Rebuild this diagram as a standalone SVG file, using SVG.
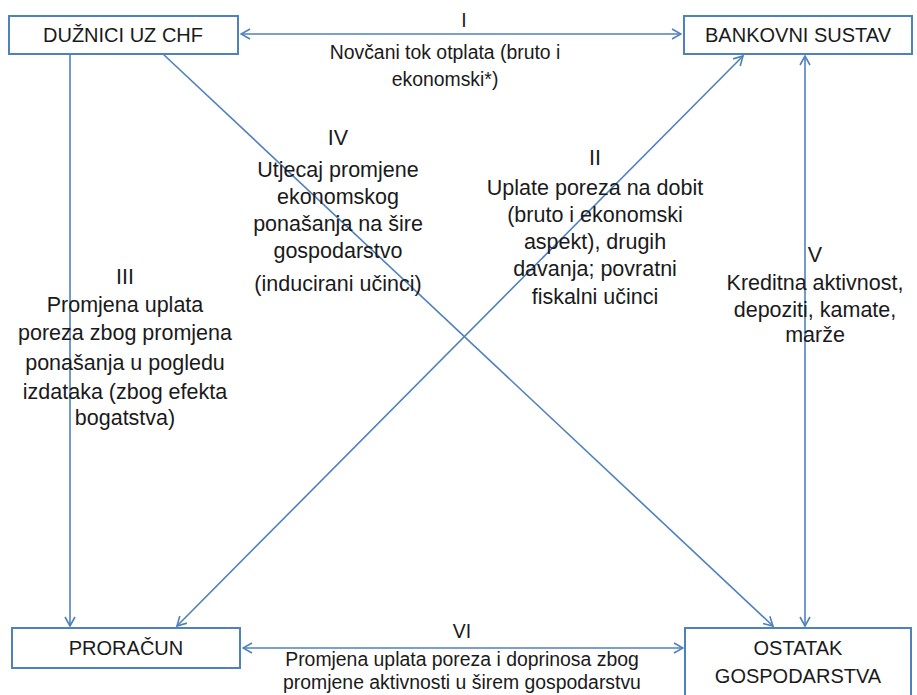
<svg xmlns="http://www.w3.org/2000/svg" width="917" height="695" viewBox="0 0 917 695">
<style>
.box{fill:#fff;stroke:#4f81bd;stroke-width:2}
.ln{stroke:#4f81bd;stroke-width:1.6;fill:none}
.t{font-family:"Liberation Sans",Arial,sans-serif;font-size:19.4px;fill:#1a1a1a;text-anchor:middle}
.w{font-family:"Liberation Sans",Arial,sans-serif;font-size:21.5px;fill:#1a1a1a;text-anchor:middle}
.bt{font-family:"Liberation Sans",Arial,sans-serif;font-size:20px;fill:#1a1a1a;text-anchor:middle}
</style>
<defs>
<marker id="ae" viewBox="0 0 12 12" refX="11" refY="6" markerWidth="12" markerHeight="12" markerUnits="userSpaceOnUse" orient="auto-start-reverse">
<path d="M2,1 L11,6 L2,11" fill="none" stroke="#4f81bd" stroke-width="1.6"/>
</marker>
</defs>
<rect width="917" height="695" fill="#fff"/>
<g id="connectors">
<line class="ln" x1="241" y1="34" x2="681" y2="34" marker-start="url(#ae)" marker-end="url(#ae)"/>
<line class="ln" x1="70" y1="54" x2="70" y2="626" marker-end="url(#ae)"/>
<line class="ln" x1="163" y1="54" x2="773" y2="626" marker-end="url(#ae)"/>
<line class="ln" x1="177" y1="626" x2="743" y2="56" marker-start="url(#ae)" marker-end="url(#ae)"/>
<line class="ln" x1="805" y1="56" x2="805" y2="626" marker-start="url(#ae)" marker-end="url(#ae)"/>
<line class="ln" x1="243" y1="648" x2="683" y2="648" marker-start="url(#ae)" marker-end="url(#ae)"/>
</g>
<g id="n1"><rect class="box" x="9" y="16" width="229" height="38"/><text class="bt" x="123" y="42">DUŽNICI UZ CHF</text></g>
<g id="n2"><rect class="box" x="684" y="16" width="228" height="38"/><text class="bt" x="798" y="42">BANKOVNI SUSTAV</text></g>
<g id="n3"><rect class="box" x="12" y="628" width="228" height="40"/><text class="bt" x="126" y="655">PRORAČUN</text></g>
<g id="n4"><rect class="box" x="685" y="628" width="226" height="80"/><text class="bt" x="798" y="655">OSTATAK</text><text class="bt" x="798" y="683">GOSPODARSTVA</text></g>
<g id="labels">
<text class="t" x="464" y="27">I</text>
<text class="t" x="445" y="59">Novčani tok otplata (bruto i</text>
<text class="t" x="445" y="86">ekonomski*)</text>
<text class="w" x="338" y="145">IV</text>
<text class="w" x="338" y="177">Utjecaj promjene</text>
<text class="w" x="338" y="204">ekonomskog</text>
<text class="w" x="338" y="231">ponašanja na šire</text>
<text class="w" x="338" y="258">gospodarstvo</text>
<text class="w" x="338" y="291">(inducirani učinci)</text>
<text class="w" x="595" y="165">II</text>
<text class="w" x="595" y="195">Uplate poreza na dobit</text>
<text class="w" x="595" y="222">(bruto i ekonomski</text>
<text class="w" x="595" y="249">aspekt), drugih</text>
<text class="w" x="595" y="276">davanja; povratni</text>
<text class="w" x="595" y="304">fiskalni učinci</text>
<text class="w" x="125" y="284">III</text>
<text class="w" x="125" y="312">Promjena uplata</text>
<text class="w" x="125" y="340">poreza zbog promjena</text>
<text class="w" x="125" y="370">ponašanja u pogledu</text>
<text class="w" x="125" y="399">izdataka (zbog efekta</text>
<text class="w" x="125" y="425">bogatstva)</text>
<text class="w" x="815" y="262">V</text>
<text class="w" x="815" y="290">Kreditna aktivnost,</text>
<text class="w" x="815" y="317">depoziti, kamate,</text>
<text class="w" x="815" y="342">marže</text>
<text class="t" x="462" y="638">VI</text>
<text class="t" x="462" y="666">Promjena uplata poreza i doprinosa zbog</text>
<text class="t" x="462" y="689">promjene aktivnosti u širem gospodarstvu</text>
</g>
</svg>
